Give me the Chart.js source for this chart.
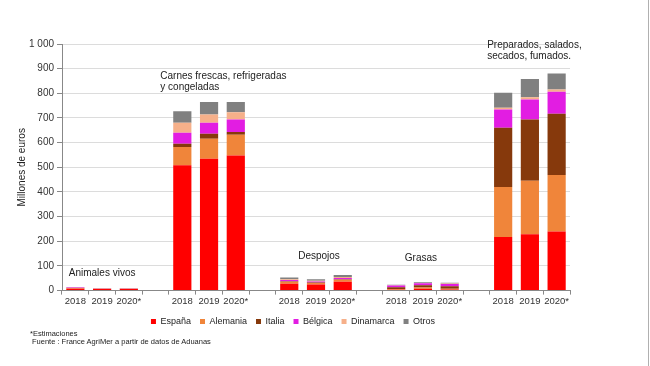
<!DOCTYPE html>
<html>
  <head>
    <meta charset="utf-8">
    <title>Importaciones por país</title>
    <script src="https://cdn.jsdelivr.net/npm/chart.js"></script>
    <style>
      body { margin: 0; background: #fff; }
      #wrap { position: relative; width: 650px; height: 366px; }
      #edge { position: absolute; left: 648px; top: 0; width: 1px; height: 366px; background: #b0b0b0; }
      .note { position: absolute; font-family: "Liberation Sans", Arial, sans-serif; font-size: 7.5px; color: #222; }
    </style>
  </head>

  <body>
    <div id="wrap">
      <canvas id="myChart" width="650" height="366"></canvas>
      <div id="edge"></div>
      <div class="note" style="left: 30px; top: 329px">*Estimaciones</div>
      <div class="note" style="left: 32px; top: 337px">Fuente : France AgriMer a partir de datos de Aduanas</div>
    </div>

    <script>
      // categories: 5 groups x 3 years, with an empty slot between groups
      var labels = ["2018", "2019", "2020*", "",
                    "2018", "2019", "2020*", "",
                    "2018", "2019", "2020*", "",
                    "2018", "2019", "2020*", "",
                    "2018", "2019", "2020*"];

      // millones de euros (Animales vivos, Carnes, Despojos, Grasas, Preparados)
      var espana    = [8, 6, 6, null, 508, 535, 548, null, 28, 25, 36, null, 3, 8, 4, null, 217, 229, 240];
      var alemania  = [2, 1, 1, null, 74, 81, 84, null, 8, 6, 8, null, 3, 5, 4, null, 203, 216, 229];
      var italia    = [1, 1, 1, null, 14, 20, 11, null, 2, 2, 2, null, 8, 9, 10, null, 240, 249, 248];
      var belgica   = [2, 1, 1, null, 44, 45, 51, null, 5, 4, 5, null, 7, 8, 9, null, 74, 81, 89];
      var dinamarca = [1, 1, 1, null, 41, 33, 29, null, 3, 3, 4, null, 1, 1, 2, null, 7, 9, 9];
      var otros     = [1, 1, 1, null, 46, 51, 42, null, 7, 6, 8, null, 2, 3, 3, null, 61, 74, 65];

      var yTicks = [0, 100, 200, 300, 400, 500, 600, 700, 800, 900, 1000];

      // group captions: [text lines, category index, x shift, y value, align]
      var groupLabels = [
        [["Animales vivos"], 1, 0, 72, "center"],
        [["Carnes frescas, refrigeradas", "y congeladas"], 4, -22, 868, "left"],
        [["Despojos"], 9, 3, 140, "center"],
        [["Grasas"], 13, -2, 132, "center"],
        [["Preparados, salados,", "secados, fumados."], 16, -16, 993, "left"],
      ];

      var font = "'Liberation Sans', Arial, sans-serif";

      var captions = {
        id: "captions",
        afterDatasetsDraw: function (chart) {
          var c = chart.ctx, x = chart.scales.x, y = chart.scales.y;
          c.save();
          c.fillStyle = "#222";
          c.font = "10px " + font;
          c.textBaseline = "middle";
          groupLabels.forEach(function (g) {
            c.textAlign = g[4];
            var px = x.getPixelForValue(g[1]) + g[2];
            var py = y.getPixelForValue(g[3]);
            g[0].forEach(function (line, i) {
              c.fillText(line, px, py + i * 11);
            });
          });
          c.restore();
        },
      };

      function ds(label, data, color) {
        return { label: label, data: data, backgroundColor: color, borderWidth: 0,
                 categoryPercentage: 1, barPercentage: 0.68 };
      }

      var ctx = document.getElementById("myChart").getContext("2d");
      var chart = new Chart(ctx, {
        type: "bar",
        data: {
          labels: labels,
          datasets: [
            ds("España", espana, "#ff0000"),
            ds("Alemania", alemania, "#f0853a"),
            ds("Italia", italia, "#86390c"),
            ds("Bélgica", belgica, "#e21de2"),
            ds("Dinamarca", dinamarca, "#f6b08a"),
            ds("Otros", otros, "#808080"),
          ],
        },
        plugins: [captions],
        options: {
          responsive: false,
          animation: false,
          layout: { padding: { top: 44, right: 80, left: 16, bottom: 30 } },
          plugins: {
            tooltip: { enabled: false },
            legend: {
              position: "bottom",
              labels: {
                boxWidth: 5,
                boxHeight: 5,
                padding: 9,
                color: "#222",
                font: { family: font, size: 9 },
              },
            },
          },
          scales: {
            x: {
              stacked: true,
              grid: { drawOnChartArea: false, tickLength: 4, color: "#888" },
              border: { color: "#888" },
              ticks: { color: "#333", font: { family: font, size: 9.5 }, maxRotation: 0, autoSkip: false, padding: 1 },
            },
            y: {
              stacked: true,
              min: 0,
              max: 1000,
              afterFit: function (s) { s.width = 46; },
              afterBuildTicks: function (s) {
                s.ticks = yTicks.map(function (v) { return { value: v }; });
              },
              grid: { color: "#dcdcdc", tickLength: 5, tickColor: "#888" },
              border: { color: "#888" },
              title: { display: true, text: "Millones de euros", color: "#222", font: { family: font, size: 10 }, padding: 0 },
              ticks: {
                color: "#333",
                padding: 3,
                font: { family: font, size: 10 },
                callback: function (v) { return v >= 1000 ? "1 000" : v; },
              },
            },
          },
        },
      });
    </script>
  </body>
</html>
